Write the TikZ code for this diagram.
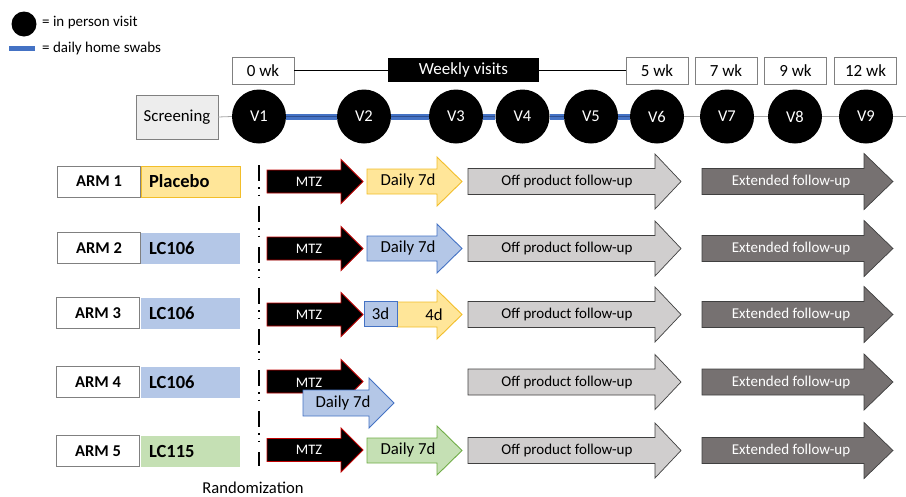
\documentclass[tikz,border=0pt]{standalone}
\usepackage{fontspec}
\setmainfont{Carlito}
\definecolor{yelF}{HTML}{FFE699}
\definecolor{yelD}{HTML}{F2BE2A}
\definecolor{bluF}{HTML}{B4C7E7}
\definecolor{bluD}{HTML}{4472C4}
\definecolor{bluDD}{HTML}{2F4F8F}
\definecolor{grnF}{HTML}{C5E0B4}
\definecolor{grnD}{HTML}{70AD47}
\definecolor{gryF}{HTML}{D0CECE}
\definecolor{gryD}{HTML}{404040}
\definecolor{extF}{HTML}{767171}
\definecolor{mtzD}{HTML}{C00000}
\definecolor{boxD}{HTML}{808080}
\definecolor{scrF}{HTML}{EDEDED}
\definecolor{lineG}{HTML}{A6A6A6}
\newcommand{\blockarr}[7]{\path[#1] ({#2},{#5-#6}) -- ({#3},{#5-#6}) -- ({#3},{#5-#7}) -- ({#4},{#5}) -- ({#3},{#5+#7}) -- ({#3},{#5+#6}) -- ({#2},{#5+#6}) -- cycle;}
\tikzset{
  wkbox/.style={draw=boxD, fill=white, minimum width=62pt, minimum height=27pt, inner sep=0pt, font=\fontsize{17}{20}\selectfont},
  visit/.style={circle, fill=black, minimum size=54pt, inner sep=0pt, text=white, font=\fontsize{16.5}{19}\selectfont},
  armbox/.style={draw=boxD, fill=white, minimum width=83pt, minimum height=31pt, inner sep=0pt, font=\bfseries\fontsize{16.5}{19}\selectfont},
  lblbox/.style={minimum height=31pt, text width=83pt, inner xsep=8pt, inner ysep=0pt, align=left, font=\bfseries\fontsize{18.5}{21}\selectfont},
  mtzarr/.style={fill=black, draw=mtzD, line width=0.9pt},
  yelarr/.style={fill=yelF, draw=yelD, line width=0.9pt},
  bluarr/.style={fill=bluF, draw=bluD, line width=0.9pt},
  grnarr/.style={fill=grnF, draw=grnD, line width=0.9pt},
  offarr/.style={fill=gryF, draw=gryD, line width=0.7pt},
  extarr/.style={fill=extF, draw=gryD, line width=0.7pt},
  mtztxt/.style={text=white, font=\fontsize{14.5}{17}\selectfont, inner sep=0pt},
  daytxt/.style={text=black, font=\fontsize{16.8}{19}\selectfont, inner sep=0pt},
  offtxt/.style={text=black, font=\fontsize{15}{18}\selectfont, inner sep=0pt},
  exttxt/.style={text=white, font=\fontsize{15}{18}\selectfont, inner sep=0pt},
  legtxt/.style={anchor=west, font=\fontsize{15}{18}\selectfont, inner sep=0pt},
}
\begin{document}
\begin{tikzpicture}[x=1pt,y=-1pt]
\useasboundingbox (0,0) rectangle (906,496);
% legend
\node[circle, fill=black, minimum size=25pt, inner sep=0pt] (legc) at (24,24) {};
\node[legtxt] (legt1) at (42,23) {= in person visit};
\coordinate (lb1) at (9,48.5);
\coordinate (lb2) at (35,48.5);
\draw[bluD, line width=4.5pt] (lb1) -- (lb2);
\node[legtxt] (legt2) at (42,48.5) {= daily home swabs};
% week boxes
\node[wkbox] (w0) at (263,70.5) {0 wk};
\node[wkbox] (w5) at (657,70.5) {5 wk};
\node[wkbox] (w7) at (726,70.5) {7 wk};
\node[wkbox] (w9) at (795.5,70.5) {9 wk};
\node[wkbox] (w12) at (865.5,70.5) {12 wk};
\draw[black, line width=0.8pt] (w0.east) -- (w5.west);
\node[fill=black, text=white, minimum width=151pt, minimum height=24pt, inner sep=0pt, font=\fontsize{17}{20}\selectfont] (wv) at (463.5,70) {Weekly visits};
% timeline
\node[draw=boxD, fill=scrF, minimum width=82pt, minimum height=44pt, inner sep=0pt, font=\fontsize{16.8}{20}\selectfont] (scr) at (177,117) {Screening};
\node[visit] (v1) at (259,116.5) {V1};
\node[visit] (v2) at (364,116.5) {V2};
\node[visit] (v3) at (456,116.5) {V3};
\node[visit] (v4) at (522.5,116.5) {V4};
\node[visit] (v5) at (591,116.5) {V5};
\node[visit] (v6) at (657,116.5) {V6};
\node[visit] (v7) at (727,116.5) {V7};
\node[visit] (v8) at (795,116.5) {V8};
\node[visit] (v9) at (866,116.5) {V9};
\coordinate (tend) at (906,116.5);
\draw[lineG, line width=0.8pt] (scr.east) -- (v1.west);
\foreach \a/\b in {v1/v2,v2/v3,v3/v4,v4/v5,v5/v6}{
  \draw[bluD, line width=6pt] (\a.east) -- (\b.west);
  \draw[bluDD, line width=1.3pt] (\a.east) -- (\b.west);
}
\foreach \a/\b in {v6/v7,v7/v8,v8/v9}{
  \draw[lineG, line width=0.8pt] (\a.east) -- (\b.west);
}
\draw[lineG, line width=0.8pt] (v9.east) -- (tend);
% arm boxes
\node[armbox] (a1) at (99,181.5) {ARM 1};
\node[lblbox, fill=yelF, draw=yelD, line width=0.6pt] (l1) at (190.5,181.5) {Placebo};
\node[armbox] (a2) at (99,248) {ARM 2};
\node[lblbox, fill=bluF] (l2) at (190.5,248) {LC106};
\node[armbox] (a3) at (98,313) {ARM 3};
\node[lblbox, fill=bluF] (l3) at (190.5,313) {LC106};
\node[armbox] (a4) at (98,382) {ARM 4};
\node[lblbox, fill=bluF] (l4) at (190.5,382) {LC106};
\node[armbox] (a5) at (98,451) {ARM 5};
\node[lblbox, fill=grnF] (l5) at (190.5,451) {LC115};
% randomization line
\coordinate (rt) at (259,165);
\coordinate (rb) at (259,466);
\draw[black, line width=1.6pt, dash pattern=on 16pt off 6pt on 1.6pt off 6pt on 1.6pt off 9.8pt] (rt) -- (rb);
\node[font=\fontsize{16.6}{19}\selectfont, inner sep=0pt] (rand) at (253,487.5) {Randomization};
% Row 1
\blockarr{mtzarr}{267}{341}{363}{181.5}{11.5}{22}
\node[mtztxt] (m1) at (309,181.5) {MTZ};
\blockarr{yelarr}{367}{437}{462}{181.5}{12.5}{24.5}
\node[daytxt] (d1) at (408,181.5) {Daily 7d};
\blockarr{offarr}{468}{655}{681}{181.5}{13}{27.5}
\node[offtxt] (o1) at (567,181.5) {Off product follow-up};
\blockarr{extarr}{702}{864}{893}{181.5}{13}{28}
\node[exttxt] (e1) at (791,181.5) {Extended follow-up};
% Row 2
\blockarr{mtzarr}{267}{341}{363}{248.5}{11.5}{22}
\node[mtztxt] (m2) at (309,248.5) {MTZ};
\blockarr{bluarr}{367}{437}{462}{248.5}{12.5}{24.5}
\node[daytxt] (d2) at (408,248.5) {Daily 7d};
\blockarr{offarr}{468}{655}{681}{248.5}{13}{27.5}
\node[offtxt] (o2) at (567,248.5) {Off product follow-up};
\blockarr{extarr}{702}{864}{893}{248.5}{13}{28}
\node[exttxt] (e2) at (791,248.5) {Extended follow-up};
% Row 3
\blockarr{mtzarr}{267}{341}{363}{314.5}{11.5}{22}
\node[mtztxt] (m3) at (309,314.5) {MTZ};
\blockarr{yelarr}{397}{437}{462}{314.5}{12.5}{24.5}
\node[daytxt] (d3b) at (434,314.5) {4d};
\node[fill=bluF, draw=bluD, line width=0.9pt, minimum width=33pt, minimum height=25pt, inner sep=0pt, font=\fontsize{16.8}{19}\selectfont] (d3a) at (380.5,314) {3d};
\blockarr{offarr}{468}{655}{681}{314.5}{13}{27.5}
\node[offtxt] (o3) at (567,314.5) {Off product follow-up};
\blockarr{extarr}{702}{864}{893}{314.5}{13}{28}
\node[exttxt] (e3) at (791,314.5) {Extended follow-up};
% Row 4
\blockarr{mtzarr}{267}{341}{363}{381.5}{11.5}{22}
\node[mtztxt] (m4) at (309,382.5) {MTZ};
\blockarr{bluarr}{303}{369}{394}{403}{13}{25}
\node[daytxt] (d4) at (343,403) {Daily 7d};
\blockarr{offarr}{468}{655}{681}{382}{13}{27.5}
\node[offtxt] (o4) at (567,382) {Off product follow-up};
\blockarr{extarr}{702}{864}{893}{382}{13}{28}
\node[exttxt] (e4) at (791,382) {Extended follow-up};
% Row 5
\blockarr{mtzarr}{267}{341}{363}{450}{11.5}{22}
\node[mtztxt] (m5) at (309,450) {MTZ};
\blockarr{grnarr}{367}{437}{462}{450.5}{12.5}{24.5}
\node[daytxt] (d5) at (408,450.5) {Daily 7d};
\blockarr{offarr}{468}{655}{681}{450.5}{13}{27.5}
\node[offtxt] (o5) at (567,450.5) {Off product follow-up};
\blockarr{extarr}{702}{864}{893}{450.5}{13}{28}
\node[exttxt] (e5) at (791,450.5) {Extended follow-up};
\end{tikzpicture}
\end{document}
